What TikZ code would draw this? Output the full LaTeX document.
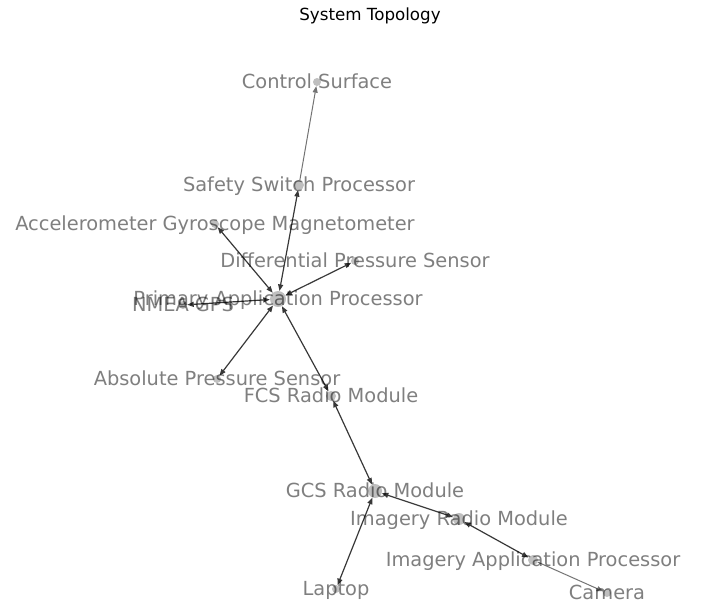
\documentclass[tikz,border=0pt]{standalone}
\usepackage{fontspec}
\setmainfont{DejaVu Sans}
\usetikzlibrary{arrows.meta}

\begin{document}
\begin{tikzpicture}[x=1pt, y=-1pt,
	dot/.style={circle, fill=black!25, inner sep=0pt, minimum size=#1},
	dot/.default=8pt,
	lbl/.style={anchor=base, yshift=-6pt, inner sep=0pt, text=black, text opacity=0.5,
		font=\fontsize{19.4}{20}\selectfont},
	link/.style={draw=black!78, line width=1.2pt,
		{Triangle[length=6.5pt,width=5pt]}-{Triangle[length=6.5pt,width=5pt]}},
	feed/.style={draw=black!55, line width=1pt, -{Triangle[length=6.5pt,width=5pt]}}]

	\useasboundingbox (0,0) rectangle (709,606);

	\node[font=\fontsize{16.7}{18}\selectfont, anchor=base, inner sep=0pt] (title) at (370,20) {System Topology};

	% flight side
	\node[dot] (cs) at (317,82) {};
	\node[dot=10pt] (ssp) at (299,185) {};
	\node[dot] (agm) at (215,224) {};
	\node[dot] (dps) at (355,261) {};
	\node[dot=16pt] (pap) at (278,299) {};
	\node[dot] (nmea) at (183,305) {};
	\node[dot] (aps) at (217,379) {};
	\node[dot=10pt] (fcs) at (331,396) {};

	% ground side
	\node[dot=14pt] (gcs) at (375,491) {};
	\node[dot=12pt] (irm) at (459,519) {};
	\node[dot=10pt] (iap) at (533,560) {};
	\node[dot] (lap) at (336,589) {};
	\node[dot] (cam) at (607,593) {};

	\draw[link] (pap) -- (ssp);
	\draw[feed] (ssp) -- (cs);
	\draw[link] (pap) -- (agm);
	\draw[link] (pap) -- (dps);
	\draw[link] (pap) -- (nmea);
	\draw[link] (pap) -- (aps);
	\draw[link] (pap) -- (fcs);
	\draw[link] (fcs) -- (gcs);
	\draw[link] (gcs) -- (lap);
	\draw[link] (gcs) -- (irm);
	\draw[link] (irm) -- (iap);
	\draw[feed] (iap) -- (cam);

	% labels on top
	\node[lbl] (cs-t) at (cs) {Control Surface};
	\node[lbl] (ssp-t) at (ssp) {Safety Switch Processor};
	\node[lbl] (agm-t) at (agm) {Accelerometer Gyroscope Magnetometer};
	\node[lbl] (dps-t) at (dps) {Differential Pressure Sensor};
	\node[lbl] (pap-t) at (pap) {Primary Application Processor};
	\node[lbl] (nmea-t) at (nmea) {NMEA GPS};
	\node[lbl] (aps-t) at (aps) {Absolute Pressure Sensor};
	\node[lbl] (fcs-t) at (fcs) {FCS Radio Module};
	\node[lbl] (gcs-t) at (gcs) {GCS Radio Module};
	\node[lbl] (irm-t) at (irm) {Imagery Radio Module};
	\node[lbl] (iap-t) at (iap) {Imagery Application Processor};
	\node[lbl] (lap-t) at (lap) {Laptop};
	\node[lbl] (cam-t) at (cam) {Camera};

\end{tikzpicture}
\end{document}
